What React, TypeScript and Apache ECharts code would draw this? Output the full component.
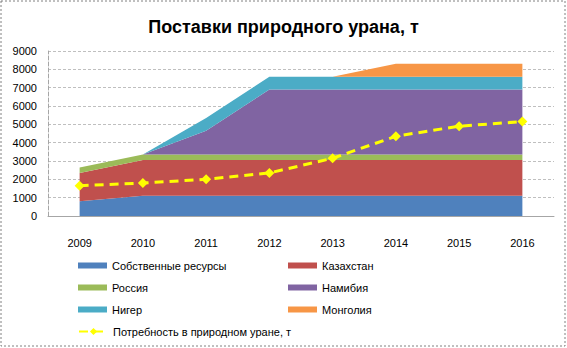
import React, { useEffect, useRef } from "react";
import * as echarts from "echarts";

const years = ["2009", "2010", "2011", "2012", "2013", "2014", "2015", "2016"];
const ownResources = [800, 1100, 1100, 1100, 1100, 1100, 1100, 1100];
const kazakhstan = [1550, 1950, 1950, 1950, 1950, 1950, 1950, 1950];
const russia = [300, 300, 300, 300, 300, 300, 300, 300];
const namibia = [0, 0, 1300, 3550, 3550, 3550, 3550, 3550];
const niger = [0, 0, 700, 700, 700, 700, 700, 700];
const mongolia = [0, 0, 0, 0, 0, 700, 700, 700];
const demand = [1650, 1800, 2000, 2350, 3150, 4350, 4900, 5150];

const areaNames = ["Собственные ресурсы", "Казахстан", "Россия", "Намибия", "Нигер", "Монголия"];
const areaData = [ownResources, kazakhstan, russia, namibia, niger, mongolia];
const areaColors = ["#4F81BD", "#C0504D", "#9BBB59", "#8064A2", "#4BACC6", "#F79646"];
const demandName = "Потребность в природном уране, т";

const FONT = "'Liberation Sans', Arial, sans-serif";

export default function App() {
  const ref = useRef<HTMLDivElement>(null);
  useEffect(() => {
    if (!ref.current) return;
    const chart = echarts.init(ref.current, undefined, { renderer: "svg" });
    const legendPos = [
      [78, 260], [288, 260],
      [78, 282], [288, 282],
      [78, 304], [288, 304],
    ];
    const legends: any[] = areaNames.map((n, i) => ({
      data: [n],
      left: legendPos[i][0],
      top: legendPos[i][1],
      icon: "rect",
      itemWidth: 29,
      itemHeight: 6,
      itemGap: 4,
      padding: 0,
      textStyle: { fontSize: 11, color: "#000", fontFamily: FONT },
      selectedMode: false,
    }));
    legends.push({
      data: [demandName],
      left: 78,
      top: 326,
      itemWidth: 29,
      itemHeight: 9,
      padding: 0,
      textStyle: { fontSize: 11, color: "#000", fontFamily: FONT },
      selectedMode: false,
    });
    const series: any[] = areaNames.map((n, i) => ({
      name: n,
      type: "line",
      stack: "total",
      data: areaData[i],
      symbol: "none",
      lineStyle: { width: 0 },
      areaStyle: { color: areaColors[i], opacity: 1 },
      itemStyle: { color: areaColors[i] },
      z: 2,
    }));
    series.push({
      name: demandName,
      type: "line",
      data: demand,
      symbol: "diamond",
      symbolSize: 10,
      lineStyle: { color: "#FFFF00", width: 3, type: [9, 6] },
      itemStyle: { color: "#FFFF00" },
      z: 5,
    });
    chart.setOption({
      animation: false,
      backgroundColor: "#fff",
      title: {
        text: "Поставки природного урана, т",
        left: "center",
        top: 13,
        textStyle: { fontSize: 18, fontWeight: "bold", color: "#000", fontFamily: FONT },
      },
      legend: legends,
      grid: { left: 48, right: 13, top: 51, bottom: 132 },
      xAxis: {
        type: "category",
        data: years,
        boundaryGap: true,
        axisLine: { lineStyle: { color: "#A6A6A6" } },
        axisTick: { show: false },
        axisLabel: { fontSize: 11, color: "#000", margin: 21, fontFamily: FONT },
      },
      yAxis: {
        type: "value",
        min: 0,
        max: 9000,
        interval: 1000,
        axisLine: { show: true, lineStyle: { color: "#A6A6A6", type: "dashed" } },
        axisTick: { show: false },
        axisLabel: {
          fontSize: 11,
          color: "#000",
          margin: 11,
          fontFamily: FONT,
          formatter: (v: number) => String(v),
        },
        splitLine: { lineStyle: { color: "#BFBFBF", type: [3, 2] } },
      },
      graphic: [
        {
          type: "rect",
          shape: { x: 1, y: 1, width: 564, height: 345 },
          style: { fill: "none", stroke: "#808080", lineWidth: 1, lineDash: [2, 2] },
          silent: true,
        },
      ],
      series,
    });
    return () => chart.dispose();
  }, []);
  return (
    <div
      ref={ref}
      style={{ position: "fixed", left: 0, top: 0, width: 567, height: 348 }}
    />
  );
}
